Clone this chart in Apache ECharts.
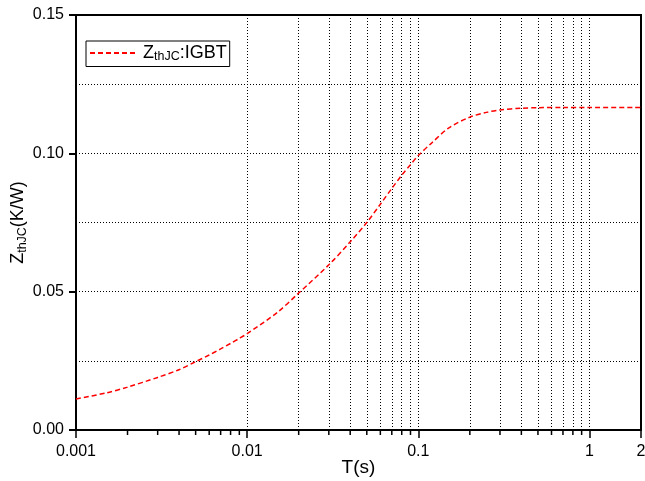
<!DOCTYPE html>
<html>
<head>
<meta charset="utf-8">
<script src="https://cdn.jsdelivr.net/npm/echarts@6/dist/echarts.min.js"></script>
<style>
  html, body { margin: 0; padding: 0; background: #fff; }
  #main { width: 645px; height: 481px; }
</style>
</head>
<body>
<div id="main"></div>
<script>
// 时间 (s) 与热阻抗 Zth (K/W)
var times = [0.001, 0.0015, 0.002, 0.003, 0.004, 0.005, 0.006, 0.007, 0.008, 0.009,
  0.01, 0.015, 0.02, 0.03, 0.04, 0.05, 0.06, 0.07, 0.08, 0.09,
  0.1, 0.12, 0.15, 0.2, 0.25, 0.3, 0.4, 0.5, 0.7, 1, 2];
var zthIGBT = [0.0112, 0.0134, 0.0155, 0.019, 0.0218, 0.0247, 0.0271, 0.0293, 0.0313, 0.0331,
  0.0348, 0.0425, 0.0495, 0.0597, 0.068, 0.075, 0.0816, 0.0873, 0.0921, 0.0959,
  0.0992, 0.1038, 0.1091, 0.1131, 0.1148, 0.1157, 0.1163, 0.1165, 0.1166, 0.1166, 0.1166];

// 对数坐标的次网格 (2..9 每个十倍程)
var minorTicks = [0.002, 0.003, 0.004, 0.005, 0.006, 0.007, 0.008, 0.009,
  0.02, 0.03, 0.04, 0.05, 0.06, 0.07, 0.08, 0.09,
  0.2, 0.3, 0.4, 0.5, 0.6, 0.7, 0.8, 0.9];

var FONT = "'Liberation Sans', Arial, sans-serif";
var dotted = { color: '#000', width: 1, type: [1, 2] };

var chart = echarts.init(document.getElementById('main'));

var option = {
  animation: false,
  textStyle: { fontFamily: FONT },
  grid: {
    left: 76, right: 4, top: 15, bottom: 51,
    outerBoundsMode: 'none', containLabel: false,
    show: true, borderColor: '#000', borderWidth: 2, backgroundColor: 'transparent'
  },
  legend: {
    left: 86, top: 41,
    padding: [3, 3, 3, 3],
    borderColor: '#000', borderWidth: 1,
    itemWidth: 48, itemHeight: 10, itemGap: 4,
    itemStyle: { opacity: 0 },
    data: ['IGBT'],
    formatter: function() { return '{m|Z}{s|thJC}{m|:IGBT}'; },
    textStyle: {
      rich: {
        m: { fontSize: 18, color: '#000', fontFamily: FONT },
        s: { fontSize: 12.5, color: '#000', fontFamily: FONT, padding: [8, 0, 0, 0] }
      }
    }
  },
  xAxis: {
    type: 'log', logBase: 10, min: 0.001, max: 2,
    name: 'T(s)', nameLocation: 'middle', nameGap: 28, nameMoveOverlap: false,
    nameTextStyle: { fontSize: 19, color: '#000', fontFamily: FONT },
    axisLine: { lineStyle: { color: '#000', width: 2 } },
    axisTick: { length: 8, lineStyle: { color: '#000', width: 1.5 } },
    axisLabel: {
      fontSize: 16, color: '#000', margin: 14, showMaxLabel: true,
      formatter: function(v) { return String(Number(v.toPrecision(3))); }
    },
    splitLine: { show: true, lineStyle: dotted }
  },
  yAxis: {
    type: 'value', min: 0, max: 0.15, interval: 0.05,
    name: '{m|Z}{s|thJC}{m|(K/W)}', nameLocation: 'middle', nameGap: 47, nameMoveOverlap: false,
    nameTextStyle: {
      rich: {
        m: { fontSize: 18, color: '#000', fontFamily: FONT },
        s: { fontSize: 12.5, color: '#000', fontFamily: FONT, padding: [8, 0, 0, 0] }
      }
    },
    axisLine: { show: true, lineStyle: { color: '#000', width: 2 } },
    axisTick: { show: true, length: 7, lineStyle: { color: '#000', width: 2 } },
    axisLabel: {
      fontSize: 16, color: '#000', margin: 12,
      formatter: function(v) { return v.toFixed(2); }
    },
    splitLine: { show: true, lineStyle: dotted },
    minorTick: { show: false, splitNumber: 2 },
    minorSplitLine: { show: true, lineStyle: dotted }
  },
  series: [{
    name: 'IGBT',
    type: 'line',
    smooth: 0.3,
    symbol: 'none',
    data: times.map(function(t, i) { return [t, zthIGBT[i]]; }),
    lineStyle: { color: '#ff0000', width: 1.5, type: [5, 3] },
    itemStyle: { color: '#ff0000' },
    markLine: {
      silent: true,
      symbol: 'none',
      label: { show: false },
      lineStyle: dotted,
      data: minorTicks.map(function(t) { return { xAxis: t }; })
    },
    z: 5
  }]
};
chart.setOption(option);

// 次刻度：用坐标轴换算出的位置画在 x 轴下方
var y0 = chart.convertToPixel({ yAxisIndex: 0 }, 0);
var tickGraphics = minorTicks.map(function(t) {
  var x = chart.convertToPixel({ xAxisIndex: 0 }, t);
  return {
    type: 'line',
    shape: { x1: x, y1: y0, x2: x, y2: y0 + 5 },
    style: { stroke: '#000', lineWidth: 1.5 }
  };
});
chart.setOption({ graphic: tickGraphics });

window.addEventListener('resize', function() { chart.resize(); });
</script>
</body>
</html>
